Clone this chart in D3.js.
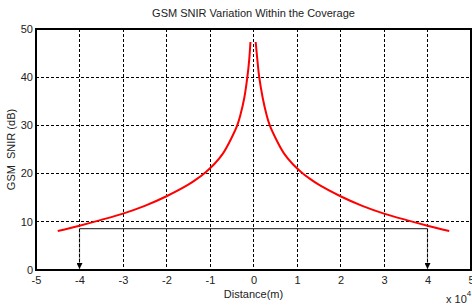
<!DOCTYPE html>
<html>
<head>
<meta charset="utf-8">
<script src="https://cdn.jsdelivr.net/npm/d3@7"></script>
<style>
  body { margin: 0; background: #fff; }
  text { font-family: "Liberation Sans", Arial, sans-serif; fill: #222; }
</style>
</head>
<body>
<div id="chart"></div>
<script>
// curve (distance in units of 1e4 m, SNIR in dB)
var distLeft = [-4.5, -4, -3.5, -3, -2.5, -2, -1.5, -1.3, -1.1, -0.9, -0.7, -0.5, -0.37, -0.3, -0.21, -0.14, -0.1, -0.07];
var snirLeft = [8.1, 9.2, 10.4, 11.7, 13.3, 15.3, 17.7, 18.9, 20.3, 22.0, 24.2, 27.5, 30.1, 32.2, 35.8, 40.1, 43.5, 47.3];
var distRight = [0.05, 0.09, 0.13, 0.21, 0.3, 0.37, 0.5, 0.7, 0.9, 1.1, 1.3, 1.5, 2, 2.5, 3, 3.5, 4, 4.5];
var snirRight = [47.3, 43.5, 40.1, 35.8, 32.2, 30.1, 27.5, 24.2, 22.0, 20.3, 18.9, 17.7, 15.3, 13.3, 11.7, 10.4, 9.2, 8.1];

// coverage marker
var coverX = [-4, 4];
var coverLevel = 8.6;

var xTicks = [-5, -4, -3, -2, -1, 0, 1, 2, 3, 4, 5];
var yTicks = [0, 10, 20, 30, 40, 50];

var W = 472, H = 305;
var margin = {top: 29, right: 1, bottom: 35, left: 36};
var width = W - margin.left - margin.right,
    height = H - margin.top - margin.bottom;

var svg = d3.select("#chart").append("svg")
    .attr("width", W)
    .attr("height", H);

var g = svg.append("g")
    .attr("transform", "translate(" + margin.left + "," + margin.top + ")");

var x = d3.scaleLinear().domain([-5, 5]).range([0, width]);
var y = d3.scaleLinear().domain([0, 50]).range([height, 0]);

// grid
g.selectAll(".vgrid")
    .data(xTicks.slice(1, -1))
    .enter().append("line")
    .attr("class", "vgrid")
    .attr("x1", function (d) { return x(d); })
    .attr("x2", function (d) { return x(d); })
    .attr("y1", 0)
    .attr("y2", height)
    .style("stroke", "#000")
    .style("stroke-width", 1)
    .style("stroke-dasharray", "3,2")
    .style("shape-rendering", "crispEdges");

g.selectAll(".hgrid")
    .data(yTicks.slice(1, -1))
    .enter().append("line")
    .attr("class", "hgrid")
    .attr("x1", 0)
    .attr("x2", width)
    .attr("y1", function (d) { return y(d); })
    .attr("y2", function (d) { return y(d); })
    .style("stroke", "#000")
    .style("stroke-width", 1)
    .style("stroke-dasharray", "3,2")
    .style("shape-rendering", "crispEdges");

// arrow head
svg.append("defs").append("marker")
    .attr("id", "arrow")
    .attr("viewBox", "0 0 10 10")
    .attr("refX", 10)
    .attr("refY", 5)
    .attr("markerWidth", 6)
    .attr("markerHeight", 6)
    .attr("markerUnits", "userSpaceOnUse")
    .attr("orient", "auto")
    .append("path")
    .attr("d", "M0,0 L10,5 L0,10 z")
    .style("fill", "#000");

// coverage bracket
g.append("line")
    .attr("x1", x(coverX[0]))
    .attr("x2", x(coverX[1]))
    .attr("y1", y(coverLevel))
    .attr("y2", y(coverLevel))
    .style("stroke", "#444")
    .style("stroke-width", 1.2);

g.selectAll(".drop")
    .data(coverX)
    .enter().append("line")
    .attr("class", "drop")
    .attr("x1", function (d) { return x(d); })
    .attr("x2", function (d) { return x(d); })
    .attr("y1", y(coverLevel))
    .attr("y2", y(0) - 1)
    .style("stroke", "rgba(0,0,0,0.45)")
    .style("stroke-width", 1.2)
    .attr("marker-end", "url(#arrow)");

// curve
var line = d3.line()
    .x(function (d) { return x(d[0]); })
    .y(function (d) { return y(d[1]); })
    .curve(d3.curveCatmullRom.alpha(0.5));

[[distLeft, snirLeft], [distRight, snirRight]].forEach(function (s) {
    g.append("path")
        .datum(d3.zip(s[0], s[1]))
        .attr("d", line)
        .style("fill", "none")
        .style("stroke", "#f00")
        .style("stroke-width", 2);
});

// axes (plain hyphen minus like the original)
var fmt = function (d) { return String(d); };
var xAxis = d3.axisBottom(x).tickValues(xTicks).tickFormat(fmt).tickSize(0).tickPadding(6);
var yAxis = d3.axisLeft(y).tickValues(yTicks).tickFormat(fmt).tickSize(0).tickPadding(3);

var gx = g.append("g")
    .attr("transform", "translate(0," + height + ")")
    .call(xAxis);
gx.select(".domain").remove();
gx.selectAll("text").style("font-size", "11px");

var gy = g.append("g").call(yAxis);
gy.select(".domain").remove();
gy.selectAll("text").style("font-size", "11px").attr("dy", "0.3em");

// box
g.append("rect")
    .attr("width", width)
    .attr("height", height)
    .style("fill", "none")
    .style("stroke", "#000")
    .style("stroke-width", 2);

// labels
svg.append("text")
    .attr("x", margin.left + width / 2)
    .attr("y", 17)
    .attr("text-anchor", "middle")
    .style("font-size", "11px")
    .text("GSM SNIR Variation Within the Coverage");

svg.append("text")
    .attr("x", margin.left + width / 2)
    .attr("y", 298)
    .attr("text-anchor", "middle")
    .style("font-size", "11px")
    .text("Distance(m)");

svg.append("text")
    .attr("transform", "translate(15," + (margin.top + height / 2) + ") rotate(-90)")
    .attr("text-anchor", "middle")
    .style("font-size", "11px")
    .style("white-space", "pre")
    .text("GSM  SNIR (dB)");

var ex = svg.append("text")
    .attr("x", 446)
    .attr("y", 303)
    .style("font-size", "11px");
ex.append("tspan").text("x 10");
ex.append("tspan").attr("dy", -7).style("font-size", "8px").text("4");
</script>
</body>
</html>
